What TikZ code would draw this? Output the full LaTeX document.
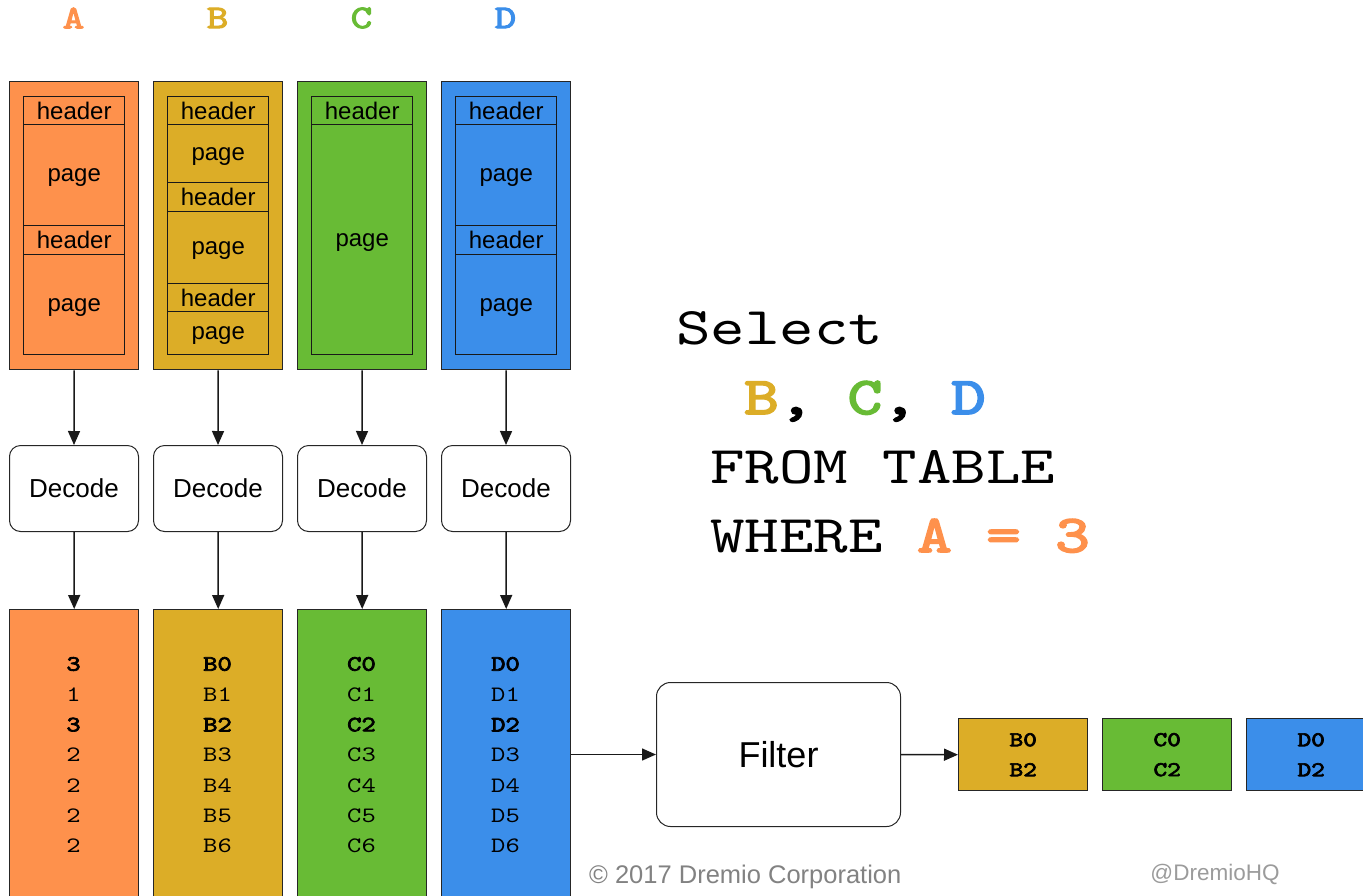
\documentclass[tikz,border=0pt]{standalone}
\usepackage{fontspec}
\usepackage{graphicx}
\setmainfont{Liberation Sans}
\newfontfamily\mono{lmmono10-regular}[Extension=.otf,BoldFont=lmmono10-regular,BoldFeatures={FakeBold=3}]
\newcommand\wide[1]{\scalebox{1.24}[1]{#1}}
\usetikzlibrary{arrows.meta}
\definecolor{cA}{RGB}{254,145,76}
\definecolor{cB}{RGB}{220,173,39}
\definecolor{cC}{RGB}{104,187,53}
\definecolor{cD}{RGB}{59,142,234}
\definecolor{credit}{RGB}{130,130,130}
\frenchspacing
\begin{document}
\begin{tikzpicture}[x=1pt,y=-1pt,
  outer/.style={draw=black!85,line width=1.4pt,minimum width=129pt,inner sep=0pt,anchor=north west},
  sect/.style={draw=black!90,line width=1.4pt,minimum width=101pt,inner sep=0pt,text depth=0pt,anchor=north west,font=\fontsize{24}{24}\selectfont},
  decodebox/.style={draw=black!85,line width=1pt,rounded corners=11pt,minimum width=129pt,minimum height=86pt,anchor=north west,fill=white,font=\fontsize{26}{26}\selectfont},
  arr/.style={-{Triangle[length=14pt,width=12pt]},line width=1.5pt,draw=black!90},
  val/.style={font=\mono\fontsize{22}{22}\selectfont,inner sep=0pt},
  collabel/.style={font=\mono\bfseries\fontsize{33}{33}\selectfont,inner sep=0pt},
  result/.style={outer,minimum height=72pt,align=center,font=\mono\bfseries\fontsize{21}{30}\selectfont},
  sql/.style={font=\mono\fontsize{53}{53}\selectfont,inner sep=0pt,anchor=base west}]
\useasboundingbox (0,0) rectangle (1363,895);
\clip (0,0) rectangle (1363,895);

% column names
\node[collabel,text=cA] (labA) at (73.5,18) {\wide{A}};
\node[collabel,text=cB] (labB) at (217.5,18) {\wide{B}};
\node[collabel,text=cC] (labC) at (361.5,18) {\wide{C}};
\node[collabel,text=cD] (labD) at (505.5,18) {\wide{D}};

% column chunks with their pages
\node[outer,fill=cA,minimum height=288pt] (Atop) at (9,81) {};
\node[sect,minimum height=28pt]  (Ah1) at (23,96)  {header};
\node[sect,minimum height=101pt] (Ap1) at (23,124) {page};
\node[sect,minimum height=29pt]  (Ah2) at (23,225) {header};
\node[sect,minimum height=100pt] (Ap2) at (23,254) {page};

\node[outer,fill=cB,minimum height=288pt] (Btop) at (153,81) {};
\node[sect,minimum height=28pt] (Bh1) at (167,96)  {header};
\node[sect,minimum height=58pt] (Bp1) at (167,124) {page};
\node[sect,minimum height=29pt] (Bh2) at (167,182) {header};
\node[sect,minimum height=72pt] (Bp2) at (167,211) {page};
\node[sect,minimum height=28pt] (Bh3) at (167,283) {header};
\node[sect,minimum height=43pt] (Bp3) at (167,311) {page};

\node[outer,fill=cC,minimum height=288pt] (Ctop) at (297,81) {};
\node[sect,minimum height=28pt]  (Ch1) at (311,96)  {header};
\node[sect,minimum height=230pt] (Cp1) at (311,124) {page};

\node[outer,fill=cD,minimum height=288pt] (Dtop) at (441,81) {};
\node[sect,minimum height=28pt]  (Dh1) at (455,96)  {header};
\node[sect,minimum height=101pt] (Dp1) at (455,124) {page};
\node[sect,minimum height=29pt]  (Dh2) at (455,225) {header};
\node[sect,minimum height=100pt] (Dp2) at (455,254) {page};

% decoders
\node[decodebox] (Adec) at (9,445)   {Decode};
\node[decodebox] (Bdec) at (153,445) {Decode};
\node[decodebox] (Cdec) at (297,445) {Decode};
\node[decodebox] (Ddec) at (441,445) {Decode};

% decoded vectors
\node[outer,fill=cA,minimum height=300pt] (Abot) at (9,609)   {};
\node[outer,fill=cB,minimum height=300pt] (Bbot) at (153,609) {};
\node[outer,fill=cC,minimum height=300pt] (Cbot) at (297,609) {};
\node[outer,fill=cD,minimum height=300pt] (Dbot) at (441,609) {};

\foreach \v [count=\i from 0] in {\textbf{3},1,\textbf{3},2,2,2,2}
  \node[val] (Av\i) at (73.5,{664+\i*30.33}) {\wide{\v}};
\foreach \v [count=\i from 0] in {\textbf{B0},B1,\textbf{B2},B3,B4,B5,B6}
  \node[val] (Bv\i) at (217.5,{664+\i*30.33}) {\wide{\v}};
\foreach \v [count=\i from 0] in {\textbf{C0},C1,\textbf{C2},C3,C4,C5,C6}
  \node[val] (Cv\i) at (361.5,{664+\i*30.33}) {\wide{\v}};
\foreach \v [count=\i from 0] in {\textbf{D0},D1,\textbf{D2},D3,D4,D5,D6}
  \node[val] (Dv\i) at (505.5,{664+\i*30.33}) {\wide{\v}};

% flow
\foreach \c in {A,B,C,D}{
  \draw[arr] (\c top.south) -- (\c dec.north);
  \draw[arr] (\c dec.south) -- (\c bot.north);
}

% filter and its output
\node[draw=black!85,line width=1pt,rounded corners=14pt,minimum width=244pt,minimum height=144pt,anchor=north west,font=\fontsize{36}{36}\selectfont] (filt) at (656,682) {Filter};
\node[result,fill=cB] (RB) at (958,718)  {\wide{B0}\\\wide{B2}};
\node[result,fill=cC] (RC) at (1102,718) {\wide{C0}\\\wide{C2}};
\node[result,fill=cD] (RD) at (1246,718) {\wide{D0}\\\wide{D2}};
\draw[arr] (filt.west -| Dbot.east) -- (filt.west);
\draw[arr] (filt.east) -- (RB.west);

% query
\node[sql] (q1) at (676,344) {\wide{Select}};
\node[sql] (q2) at (744,414) {\wide{\bfseries\textcolor{cB}{B}, \textcolor{cC}{C}, \textcolor{cD}{D}}};
\node[sql] (q3) at (710,483) {\wide{FROM TABLE}};
\node[sql] (q4) at (710,552) {\wide{WHERE \textbf{\textcolor{cA}{A = 3}}}};

% credits
\node[anchor=west,inner sep=0pt,text=credit,font=\fontsize{25.5}{25.5}\selectfont] (copy) at (589,877) {© 2017 Dremio Corporation};
\node[inner sep=0pt,text=credit!80,font=\fontsize{22.5}{22.5}\selectfont] (handle) at (1215,874) {@DremioHQ};
\end{tikzpicture}
\end{document}
